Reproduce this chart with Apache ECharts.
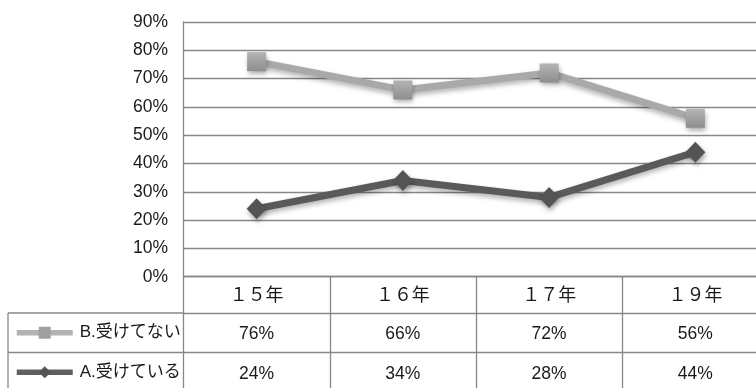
<!DOCTYPE html>
<html>
<head>
<meta charset="utf-8">
<script src="https://cdn.jsdelivr.net/npm/echarts@6/dist/echarts.min.js"></script>
<style>
  html, body { margin: 0; padding: 0; background: #fff; }
  #chart { width: 756px; height: 388px; }
</style>
</head>
<body>
<div id="chart"></div>
<script>
// Survey years (table header) and the two answer groups, in percent
const years = ['１５年', '１６年', '１７年', '１９年'];
const nameB = 'B.受けてない';
const nameA = 'A.受けている';
const valuesB = [76, 66, 72, 56];
const valuesA = [24, 34, 28, 44];
const yTicks = { min: 0, max: 90, step: 10 };

const FONT = "'Liberation Sans', Arial, 'Noto Sans CJK JP', sans-serif";
const TEXT = '#1a1a1a';
const RULE = '#878787';
const NUM_SIZE = 17.5;

// Layout of the plot and the data table underneath it
const plotLeft = 183.5, plotTop = 22, plotBottom = 276.7, plotWidth = 585;
const headRow = 36.3, rowH = 39.5;
const tableLeft = 8;

const chart = echarts.init(document.getElementById('chart'), null, { renderer: 'canvas' });

function tableAxis(offset, tickLen, margin, fontSize, fmt) {
  return {
    type: 'category',
    data: years,
    position: 'bottom',
    offset: offset,
    boundaryGap: true,
    axisLine: { show: true, lineStyle: { color: RULE, width: 1.3 } },
    axisTick: { show: true, length: tickLen, lineStyle: { color: RULE, width: 1.3 } },
    axisLabel: {
      show: true, margin: margin, color: TEXT, fontFamily: FONT, fontSize: fontSize,
      formatter: fmt
    },
    splitLine: { show: false }
  };
}

function legendRow(name, rowTop, lineColor, markColor) {
  return {
    orient: 'horizontal',
    left: 14,
    top: rowTop + rowH / 2 - 8.5,
    padding: 0,
    itemWidth: 56,
    itemHeight: 15,
    textStyle: { color: TEXT, fontFamily: FONT, fontSize: 17, padding: [0, 0, 0, 2] },
    data: [{ name: name, lineStyle: { color: lineColor, width: 5.5 }, itemStyle: { color: markColor } }]
  };
}

const markerShadow = {
  shadowBlur: 5, shadowColor: 'rgba(0,0,0,0.35)', shadowOffsetX: 1, shadowOffsetY: 3
};

const rowBTop = plotBottom + headRow;
const rowATop = rowBTop + rowH;

chart.setOption({
  animation: false,
  backgroundColor: '#ffffff',
  textStyle: { fontFamily: FONT },
  grid: {
    left: plotLeft, top: plotTop, width: plotWidth,
    height: plotBottom - plotTop, containLabel: false,
    outerBoundsMode: 'none'
  },
  legend: [
    legendRow(nameB, rowBTop, '#b3b3b3', '#a0a0a0'),
    legendRow(nameA, rowATop, '#5f5f5f', '#555555')
  ],
  xAxis: [
    tableAxis(0, headRow, 10, 18, v => v),
    tableAxis(headRow, rowH, 12, NUM_SIZE, (v, i) => valuesB[i] + '%'),
    tableAxis(headRow + rowH, rowH, 13, NUM_SIZE, (v, i) => valuesA[i] + '%')
  ],
  yAxis: {
    type: 'value',
    min: yTicks.min, max: yTicks.max, interval: yTicks.step,
    axisLine: { show: true, lineStyle: { color: RULE, width: 1.3 } },
    axisTick: { show: false },
    axisLabel: {
      margin: 15.5, color: TEXT, fontFamily: FONT, fontSize: NUM_SIZE,
      formatter: '{value}%'
    },
    splitLine: { show: true, lineStyle: { color: RULE, width: 1.3 } }
  },
  series: [
    {
      name: nameB,
      type: 'line',
      data: valuesB,
      symbol: 'rect',
      symbolSize: 19,
      lineStyle: {
        color: '#a9a9a9', width: 7,
        shadowBlur: 5, shadowColor: 'rgba(0,0,0,0.3)', shadowOffsetY: 3
      },
      itemStyle: {
        color: new echarts.graphic.LinearGradient(0, 0, 0, 1, [
          { offset: 0, color: '#b4b4b4' },
          { offset: 1, color: '#8e8e8e' }
        ]),
        borderWidth: 0,
        ...markerShadow
      },
      z: 3
    },
    {
      name: nameA,
      type: 'line',
      data: valuesA,
      symbol: 'diamond',
      symbolSize: [20, 21],
      lineStyle: {
        color: '#5a5a5a', width: 7,
        shadowBlur: 5, shadowColor: 'rgba(0,0,0,0.3)', shadowOffsetY: 3
      },
      itemStyle: {
        color: '#545454',
        borderWidth: 0,
        ...markerShadow
      },
      z: 4
    }
  ],
  graphic: [
    // legend cells of the data table
    { type: 'line', shape: { x1: tableLeft, y1: rowBTop, x2: plotLeft, y2: rowBTop },
      style: { stroke: RULE, lineWidth: 1.3 } },
    { type: 'line', shape: { x1: tableLeft, y1: rowATop, x2: plotLeft, y2: rowATop },
      style: { stroke: RULE, lineWidth: 1.3 } },
    { type: 'line', shape: { x1: tableLeft, y1: rowBTop, x2: tableLeft, y2: 400 },
      style: { stroke: RULE, lineWidth: 1.3 } }
  ]
});
</script>
</body>
</html>
